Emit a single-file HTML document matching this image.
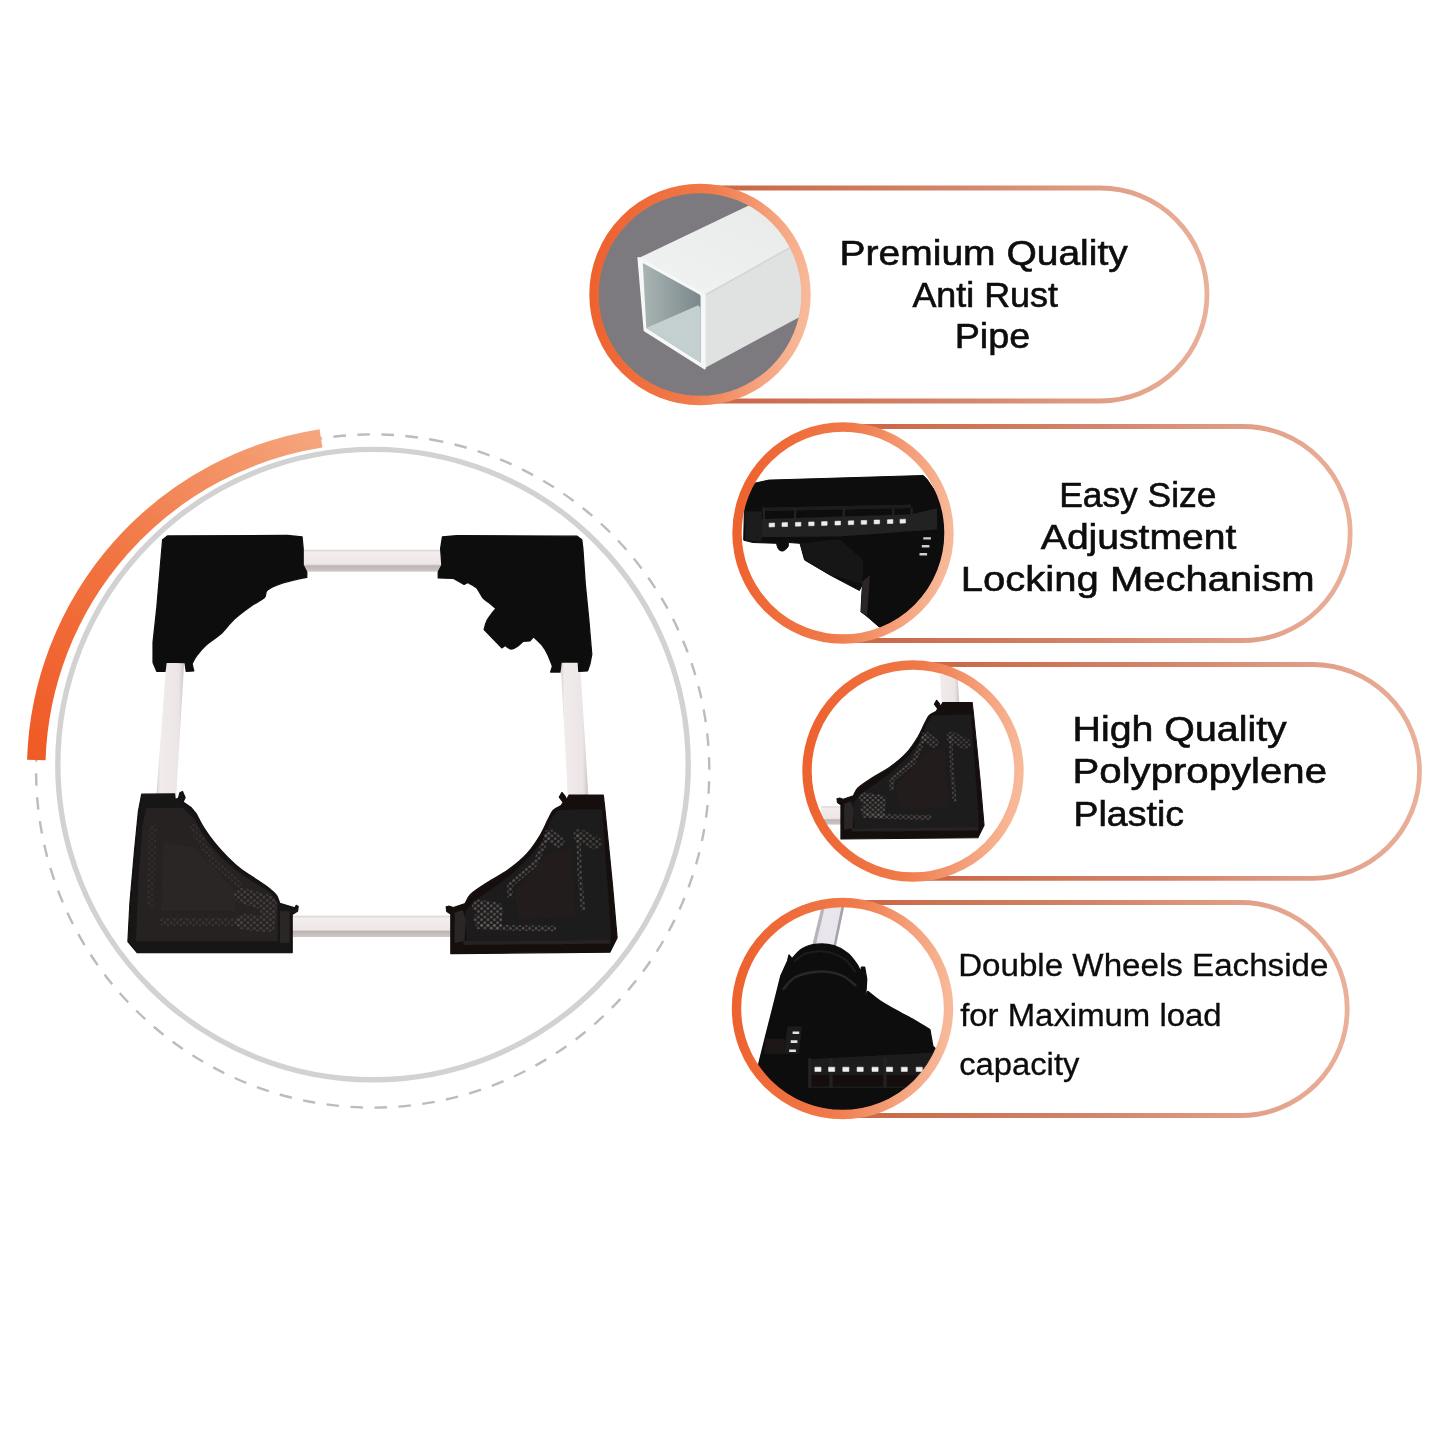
<!DOCTYPE html>
<html><head><meta charset="utf-8"><title>Product features</title>
<style>html,body{margin:0;padding:0;background:#fff;}body{width:1445px;height:1445px;overflow:hidden;font-family:"Liberation Sans",sans-serif;}svg{display:block}</style>
</head><body>
<svg width="1445" height="1445" viewBox="0 0 1445 1445">
<rect width="1445" height="1445" fill="#ffffff"/>
<defs>
<linearGradient id="ring" x1="0" y1="0.45" x2="1" y2="0.55"><stop offset="0" stop-color="#ee622f"/><stop offset="0.5" stop-color="#f07a4a"/><stop offset="0.78" stop-color="#f49f79"/><stop offset="1" stop-color="#f8b999"/></linearGradient>
<linearGradient id="pill" x1="0" y1="0" x2="1" y2="0"><stop offset="0" stop-color="#d5673f"/><stop offset="0.25" stop-color="#cb6b4b"/><stop offset="0.6" stop-color="#d3866b"/><stop offset="1" stop-color="#eab09a"/></linearGradient>
<linearGradient id="arc" gradientUnits="userSpaceOnUse" x1="36" y1="760" x2="321" y2="438"><stop offset="0" stop-color="#f05a25"/><stop offset="0.45" stop-color="#f17340"/><stop offset="0.8" stop-color="#f39366"/><stop offset="1" stop-color="#f5a67e"/></linearGradient>
<linearGradient id="pipeH" x1="0" y1="0" x2="0" y2="1"><stop offset="0" stop-color="#d9d2d2"/><stop offset="0.12" stop-color="#f3eded"/><stop offset="0.66" stop-color="#ede6e6"/><stop offset="0.74" stop-color="#bdb4b4"/><stop offset="1" stop-color="#cfc6c6"/></linearGradient>
<linearGradient id="pipeV" x1="0" y1="0" x2="1" y2="0"><stop offset="0" stop-color="#d6cece"/><stop offset="0.15" stop-color="#f1ebeb"/><stop offset="0.8" stop-color="#ece5e5"/><stop offset="1" stop-color="#cbc2c2"/></linearGradient>
<linearGradient id="wall" x1="0" y1="0" x2="1" y2="0"><stop offset="0" stop-color="#a9b4b4"/><stop offset="1" stop-color="#7b888a"/></linearGradient>
<linearGradient id="topface" x1="0" y1="1" x2="1" y2="0"><stop offset="0" stop-color="#f1f3f2"/><stop offset="1" stop-color="#e3e6e5"/></linearGradient>
<clipPath id="c1"><circle cx="700" cy="294.5" r="102"/></clipPath>
<clipPath id="c2"><circle cx="843" cy="533" r="102"/></clipPath>
<clipPath id="c3"><circle cx="913" cy="771" r="102"/></clipPath>
<clipPath id="c3r"><rect x="821.1" y="674.9" width="300" height="300"/></clipPath>
<clipPath id="c4"><circle cx="842.5" cy="1008.5" r="102"/></clipPath>
<pattern id="dots" width="6.4" height="5.6" patternUnits="userSpaceOnUse"><circle cx="1.6" cy="1.4" r="1.45" fill="#6b6767"/><circle cx="4.8" cy="4.2" r="1.45" fill="#6b6767"/></pattern>
<filter id="soft" x="-2%" y="-2%" width="104%" height="104%"><feGaussianBlur stdDeviation="0.55"/></filter>
<g id="br">
<path d="M560.2,655 L579.6,655 L588.6,800 L568,800Z" fill="url(#pipeV)"/>
<rect x="285" y="915.7" width="172" height="21.3" fill="url(#pipeH)"/>
<path d="M569.1,795.1L603.3,795.1L604.6,806.3L608.6,845.7L612.5,885.2L617.1,937.8L609.9,952.2L450.8,953.6L450.8,914.1L446.8,911.5L446.2,906.9L449.5,906.2L453.4,907.5L465.2,903.6C466.1,902.1 467.2,897.7 470.5,894.4C473.8,891.1 478.6,888.0 485.0,883.9C491.3,879.7 501.6,874.5 508.6,869.4C515.6,864.4 521.8,859.3 527.0,853.6C532.3,847.9 536.7,840.9 540.2,835.2C543.7,829.5 545.9,823.6 548.1,819.4C550.3,815.3 551.1,812.5 553.3,810.2C555.5,807.9 559.9,806.4 561.2,805.6L563.2,802.4L559.3,797.1L561.9,792.5L565.2,796.4L566.5,799.7Z" fill="#131111" stroke="#131111" stroke-width="1.2" stroke-linejoin="round"/>
<path d="M557.3,810.2L602.0,808.9L611.2,935.2L609.9,943.0L466.6,944.4L465.2,911.5L474.4,901.0C481.0,896.1 502.9,881.7 513.9,872.0C524.9,862.4 534.1,851.9 540.2,843.1C546.3,834.3 549.0,823.4 550.7,819.4Z" fill="#1d1a1a"/>
<path d="M548.1,853.6L571.7,848.4L575.7,916.7L519.2,919.4L513.9,893.1Z" fill="#211e1e"/>
<path d="M548.1,835.2L534.9,864.2L509.9,885.2L509.9,895.7" fill="none" stroke="url(#dots)" stroke-width="5.5" stroke-linecap="round" stroke-linejoin="round" opacity="0.7"/>
<path d="M578.3,835.2L579.6,872.0L582.9,908.9" fill="none" stroke="url(#dots)" stroke-width="4.5" stroke-linecap="round" stroke-linejoin="round" opacity="0.65"/>
<path d="M478.4,926.6L513.9,927.9L553.3,928.6" fill="none" stroke="url(#dots)" stroke-width="5.5" stroke-linecap="round" stroke-linejoin="round" opacity="0.7"/>
<path d="M478.4,906.2L496.8,908.9L495.5,923.3L479.7,919.4" fill="none" stroke="url(#dots)" stroke-width="13" stroke-linecap="round" stroke-linejoin="round" opacity="0.75"/>
<path d="M549.4,835.2L558.6,841.8" fill="none" stroke="url(#dots)" stroke-width="12" stroke-linecap="round" stroke-linejoin="round" opacity="0.6"/>
<path d="M579.6,835.2L595.4,843.1" fill="none" stroke="url(#dots)" stroke-width="13" stroke-linecap="round" stroke-linejoin="round" opacity="0.5"/>
<path d="M454.7,912.8L462.6,910.2L465.9,919.4L464.6,941.1L454.7,943.0Z" fill="#2a2626"/>
<path d="M463.3,941.1L609.9,939.8L610.5,943.7L463.3,945.0Z" fill="#252121"/>
</g>
</defs>
<g filter="url(#soft)">
<circle cx="373" cy="764.6" r="315.2" fill="none" stroke="#d2d2d2" stroke-width="5.4"/>
<circle cx="372.7" cy="771" r="336.6" fill="none" stroke="#bcbcbc" stroke-width="2.4" stroke-dasharray="12.5 11.5" transform="rotate(-80 372.7 771)"/>
<path d="M36.3,760.0 A336.6,336.6 0 0 1 321.0,438.4" fill="none" stroke="#fff" stroke-width="22"/>
<path d="M36.3,760.0 A336.6,336.6 0 0 1 321.0,438.4" fill="none" stroke="url(#arc)" stroke-width="18.5"/>
<rect x="290" y="549.7" width="160" height="21.9" fill="url(#pipeH)"/>
<path d="M166.9,655 L184.6,655 L176,800 L156,800Z" fill="url(#pipeV)"/>
<use href="#br"/>
<path d="M162.6,539.7L167.4,535.9L287.4,535.4L302.1,536.8L303.2,548.5L303.2,565.0L306.8,572.1L306.8,577.4C305.3,577.6 301.8,578.2 297.9,579.1C294.1,580.0 287.7,581.5 283.8,582.6C279.9,583.8 277.3,584.8 274.4,586.2C271.6,587.5 268.5,588.9 266.8,590.9C265.0,592.8 266.7,595.4 264.1,597.9C261.4,600.5 255.8,602.6 250.9,606.2C245.9,609.7 239.5,614.4 234.4,619.1C229.3,623.8 225.0,630.1 220.3,634.4C215.6,638.7 210.1,641.5 206.2,645.0C202.3,648.5 199.1,652.5 196.8,655.6C194.4,658.7 192.8,662.5 192.1,663.8L193.8,670.9L186.2,671.5L185.0,662.6L166.2,662.1L165.0,671.5L156.8,671.5L153.0,662.6L153.0,642.6L156.8,607.4L160.3,566.2Z" fill="#0f0d0d" stroke="#0f0d0d" stroke-width="1.2" stroke-linejoin="round"/>
<path d="M442.4,536.8L457.1,535.6L577.1,536.2L581.8,539.7L582.9,548.5L585.3,583.8L588.8,619.1L591.8,654.4L590.0,663.8L587.6,670.9L578.8,671.5L578.2,662.1L561.2,662.1L560.0,672.1L550.6,672.1L552.4,666.2C551.6,664.2 549.4,657.9 547.6,654.4C545.9,650.9 544.1,647.9 541.8,645.0C539.4,642.1 534.9,638.1 533.5,636.8L530.0,640.9L522.9,641.5C522.1,642.3 519.6,644.9 517.6,646.2C515.7,647.5 513.2,649.2 511.2,649.1C509.1,649.0 506.3,646.2 505.3,645.6L501.8,647.9L484.1,629.7C484.5,628.3 485.4,623.9 486.5,621.5C487.5,619.0 489.0,617.2 490.6,615.0C492.2,612.8 495.0,609.6 495.9,608.5C494.7,607.5 491.0,604.4 488.8,602.6C486.7,600.9 484.5,599.7 482.9,597.9C481.4,596.2 480.6,593.8 479.4,592.1C478.2,590.3 477.8,588.9 475.9,587.4C473.9,585.8 469.0,583.4 467.6,582.6L464.1,584.4L453.5,578.5L438.2,577.9L438.2,572.1L441.8,565.0L440.6,548.5Z" fill="#0f0d0d" stroke="#0f0d0d" stroke-width="1.2" stroke-linejoin="round"/>
<path d="M141.7,794.2L174.6,793.9L175.2,799.5L178.5,798.1L179.8,792.9L182.5,791.6L185.1,797.5L183.1,802.1L191.0,807.4L196.3,813.9C197.6,816.3 201.1,823.6 204.2,828.4C207.2,833.2 210.7,838.0 214.7,842.9C218.6,847.7 223.4,852.9 227.8,857.3C232.2,861.7 236.1,865.4 241.0,869.2C245.8,872.9 251.9,876.4 256.7,879.7C261.6,883.0 266.6,886.2 269.9,888.9C273.2,891.5 274.8,893.0 276.5,895.4C278.1,897.9 279.2,902.0 279.8,903.3L294.9,907.9L296.2,905.3L298.2,906.6L297.5,911.2L292.2,914.5L292.2,952.6L137.1,952.6L127.9,941.5L129.9,903.3L134.5,850.7L138.4,811.3Z" fill="#151212" stroke="#151212" stroke-width="1.2" stroke-linejoin="round"/>
<path d="M146.3,807.4L183.1,807.4L193.6,817.9C196.7,822.7 204.6,837.8 212.0,846.8C219.5,855.8 228.9,864.3 238.3,871.8C247.8,879.2 262.0,886.2 268.6,891.5C275.2,896.8 276.3,901.4 277.8,903.3L277.8,941.5L135.8,941.5L138.4,877.0L142.4,824.4Z" fill="#262020"/>
<path d="M163.4,841.5L193.6,846.8L235.7,890.2L235.7,911.2L160.8,911.2Z" fill="#2b2525"/>
<path d="M242.3,895.4L268.6,903.3L267.3,924.4L243.6,921.7" fill="none" stroke="url(#dots)" stroke-width="16" stroke-linecap="round" stroke-linejoin="round" opacity="0.45"/>
<path d="M163.4,921.7L238.3,921.7" fill="none" stroke="url(#dots)" stroke-width="8" stroke-linecap="round" stroke-linejoin="round" opacity="0.3"/>
<path d="M193.6,828.4L212.0,858.6L238.3,884.9" fill="none" stroke="url(#dots)" stroke-width="8" stroke-linecap="round" stroke-linejoin="round" opacity="0.22"/>
<path d="M152.9,828.4L150.2,903.3" fill="none" stroke="url(#dots)" stroke-width="8" stroke-linecap="round" stroke-linejoin="round" opacity="0.2"/>
<path d="M279.8,911.2L289.6,911.2L289.6,942.8L279.8,942.8Z" fill="#2c2727"/>
<rect x="593.5" y="188" width="613.5" height="213.0" rx="106.5" fill="#fff" stroke="url(#pill)" stroke-width="4.8"/>
<rect x="736.0" y="426.5" width="614.2" height="214.0" rx="107.0" fill="#fff" stroke="url(#pill)" stroke-width="4.8"/>
<rect x="806.1" y="664.5" width="613.4" height="213.8" rx="106.9" fill="#fff" stroke="url(#pill)" stroke-width="4.8"/>
<rect x="736.0" y="902.5" width="611.2" height="213.0" rx="106.5" fill="#fff" stroke="url(#pill)" stroke-width="4.8"/>
<g clip-path="url(#c1)">
<rect x="590" y="184" width="222" height="222" fill="#7b7a7f"/>
<path d="M638.7,258.1L832.5,165.5L898.2,187.1L704.4,295.5Z" fill="url(#topface)"/>
<path d="M704.4,295.5L898.2,187.1L898.2,264.1L704.4,368.2Z" fill="#dfe2e1"/>
<path d="M704.4,295.5L898.2,187.1" fill="none" stroke="#d2d6d5" stroke-width="1.5"/>
<path d="M638.4,257.9L704.7,295.2L704.7,368.4L644.6,330.4Z" fill="#f6f8f8" stroke="#f6f8f8" stroke-width="2" stroke-linejoin="round"/>
<path d="M642.8,263.0L696.8,293.0C697.4,293.4 699.7,294.2 700.3,295.5C700.9,296.8 700.5,300.1 700.6,301.0L700.6,362.6L646.3,328.0Z" fill="url(#wall)"/>
<path d="M646.3,328.0L698.2,305.2L700.6,308.0L700.6,362.6Z" fill="#c4cfd0"/>
</g>
<g clip-path="url(#c2)">
<path d="M755.1,483.1L768.8,480.1L923.3,475.5L927.1,479.3L961.4,529.6L961.4,651.4L879.2,627.0L867.0,616.4L860.9,611.8L862.4,584.4L859.4,590.5L830.4,575.2L804.6,560.0L800.0,543.3L788.6,542.5C788.4,543.3 788.7,545.7 787.8,547.1C786.9,548.5 784.8,550.5 783.2,550.9C781.7,551.3 779.8,550.6 778.7,549.4C777.5,548.1 776.8,544.3 776.4,543.3L752.8,542.5L743.7,540.2L744.4,508.3L748.2,494.6Z" fill="#0d0b0b" stroke="#0d0b0b" stroke-width="1" stroke-linejoin="round"/>
<path d="M761.2,518.9L911.1,514.3L937.0,508.3L937.0,529.6L839.6,536.4L761.9,537.2Z" fill="#232121"/>
<path d="M745.2,511.3L761.9,511.3L761.9,541.8L745.2,540.2Z" fill="#1c1a1a"/>
<path d="M761.9,507.5L911.1,504.5L911.1,508.3L761.9,511.3Z" fill="#1e1c1c"/>
<path d="M762.7,508.3L765.1,508.3L765.1,520.4L762.7,520.4Z" fill="#242222"/>
<path d="M793.9,508.3L796.3,508.3L796.3,520.4L793.9,520.4Z" fill="#242222"/>
<path d="M842.6,508.3L845.1,508.3L845.1,520.4L842.6,520.4Z" fill="#242222"/>
<path d="M892.1,508.3L894.5,508.3L894.5,520.4L892.1,520.4Z" fill="#242222"/>
<path d="M910.4,508.3L912.8,508.3L912.8,520.4L910.4,520.4Z" fill="#242222"/>
<path d="M800.0,543.3L839.6,538.7L863.9,560.0L862.4,584.4L830.4,575.2L804.6,560.0Z" fill="#141212"/>
<path d="M862.4,581.3L870.0,575.2L867.0,616.4L860.9,611.8Z" fill="#2a2626"/>
<path d="M769.1,523.2L774.6,523.0L774.6,526.8L769.1,527.0Z" fill="#ededed" stroke="#ededed" stroke-width="0.6" stroke-linejoin="round"/>
<path d="M782.0,522.8L787.5,522.6L787.5,526.5L782.0,526.6Z" fill="#ededed" stroke="#ededed" stroke-width="0.6" stroke-linejoin="round"/>
<path d="M795.4,522.4L800.9,522.3L800.9,526.1L795.4,526.2Z" fill="#ededed" stroke="#ededed" stroke-width="0.6" stroke-linejoin="round"/>
<path d="M808.7,522.0L814.1,521.9L814.1,525.7L808.7,525.8Z" fill="#ededed" stroke="#ededed" stroke-width="0.6" stroke-linejoin="round"/>
<path d="M821.6,521.7L827.1,521.5L827.1,525.3L821.6,525.5Z" fill="#ededed" stroke="#ededed" stroke-width="0.6" stroke-linejoin="round"/>
<path d="M835.0,521.3L840.5,521.1L840.5,524.9L835.0,525.1Z" fill="#ededed" stroke="#ededed" stroke-width="0.6" stroke-linejoin="round"/>
<path d="M848.3,520.9L853.7,520.7L853.7,524.6L848.3,524.7Z" fill="#ededed" stroke="#ededed" stroke-width="0.6" stroke-linejoin="round"/>
<path d="M861.2,520.5L866.7,520.4L866.7,524.2L861.2,524.3Z" fill="#ededed" stroke="#ededed" stroke-width="0.6" stroke-linejoin="round"/>
<path d="M874.1,520.1L879.6,520.0L879.6,523.8L874.1,523.9Z" fill="#ededed" stroke="#ededed" stroke-width="0.6" stroke-linejoin="round"/>
<path d="M887.4,519.8L892.9,519.6L892.9,523.4L887.4,523.6Z" fill="#ededed" stroke="#ededed" stroke-width="0.6" stroke-linejoin="round"/>
<path d="M900.0,519.4L905.5,519.2L905.5,523.0L900.0,523.2Z" fill="#ededed" stroke="#ededed" stroke-width="0.6" stroke-linejoin="round"/>
<path d="M923.3,537.2L930.9,537.2L930.9,539.6L923.3,539.6Z" fill="#cfcfcf"/>
<path d="M921.8,545.1L929.4,545.1L929.4,547.5L921.8,547.5Z" fill="#cfcfcf"/>
<path d="M919.5,553.0L927.1,553.0L927.1,555.5L919.5,555.5Z" fill="#cfcfcf"/>
</g>
<g clip-path="url(#c3)"><g clip-path="url(#c3r)"><use href="#br" transform="translate(452.76 17.85) scale(0.861)"/></g></g>
<g clip-path="url(#c4)">
<path d="M821.8,906.1L844.3,906.1L835.8,946.4L812.3,944.9Z" fill="#e8e5ec"/>
<path d="M821.8,906.1L825.1,906.1L815.7,945.2L812.3,944.9Z" fill="#b8b4bb"/>
<path d="M841.6,906.1L844.3,906.1L835.8,946.4L833.4,946.3Z" fill="#a6a2a9"/>
<path d="M789.0,954.8L792.1,958.6C793.7,957.0 797.8,951.1 802.0,948.7C806.2,946.3 811.9,944.7 817.2,944.2C822.5,943.6 828.9,944.2 834.0,945.7C839.0,947.2 843.9,950.2 847.7,953.3C851.5,956.3 854.6,960.9 856.8,963.9C859.0,967.0 860.0,970.3 860.6,971.6L861.4,967.0L864.7,967.0L866.8,979.2L865.6,997.4L867.8,991.3C869.7,992.9 875.1,997.4 879.6,1000.5C884.2,1003.5 889.0,1006.3 894.9,1009.6C900.7,1012.9 908.8,1017.0 914.7,1020.3C920.5,1023.6 927.3,1027.9 929.9,1029.4L932.9,1046.2L955.8,1067.5L955.8,1128.4L735.0,1128.4L757.8,1067.5L765.4,1037.0L773.1,1006.6L780.7,976.1L787.5,960.9Z" fill="#0d0b0b" stroke="#0d0b0b" stroke-width="1.2" stroke-linejoin="round"/>
<path d="M811.1,1059.1L940.5,1052.2L940.5,1088.0L811.1,1088.0Z" fill="#1f1d1d"/>
<path d="M811.1,1075.1L940.5,1075.1L940.5,1086.5L811.1,1086.5Z" fill="#121010"/>
<path d="M808.1,1058.3L811.4,1058.3L811.4,1088.0L808.1,1088.0Z" fill="#242222"/>
<path d="M829.4,1058.3L832.7,1058.3L832.7,1088.0L829.4,1088.0Z" fill="#242222"/>
<path d="M883.4,1058.3L886.8,1058.3L886.8,1088.0L883.4,1088.0Z" fill="#242222"/>
<path d="M787.5,1026.4L802.0,1026.4L798.9,1053.8L783.7,1053.8Z" fill="#1c1a1a"/>
<path d="M765.4,1038.5L785.2,1038.5L783.7,1053.8L763.9,1053.8Z" fill="#1b1919"/>
<ellipse cx="818.0" cy="999.0" rx="39.3" ry="27.4" transform="rotate(-12 818.0 999.0)" fill="#090808"/>
<path d="M783.4,989.1C785.5,987.0 789.8,979.8 795.9,976.9C802.0,974.0 812.6,971.8 820.3,971.6C827.9,971.3 835.7,973.1 841.6,975.4C847.4,977.6 853.0,983.6 855.3,985.3" fill="none" stroke="#2b2727" stroke-width="2.6" stroke-linecap="round"/>
<path d="M795.1,960.9C797.0,959.6 801.4,954.8 806.6,953.3C811.8,951.8 820.0,950.7 826.3,951.8C832.7,952.8 839.8,956.1 844.6,959.4C849.4,962.7 853.5,969.5 855.3,971.6" fill="none" stroke="#1f1c1c" stroke-width="2" stroke-linecap="round"/>
<path d="M792.6,1031.4L799.2,1031.4L799.2,1034.1L792.6,1034.1Z" fill="#e4e4e4"/>
<path d="M790.7,1040.2L797.4,1040.2L797.4,1043.0L790.7,1043.0Z" fill="#e4e4e4"/>
<path d="M789.2,1049.4L795.9,1049.4L795.9,1052.1L789.2,1052.1Z" fill="#e4e4e4"/>
<path d="M814.9,1067.2L821.0,1067.2L821.0,1071.4L814.9,1071.4Z" fill="#f0f0f0" stroke="#f0f0f0" stroke-width="0.6" stroke-linejoin="round"/>
<path d="M828.6,1067.2L834.7,1067.2L834.7,1071.4L828.6,1071.4Z" fill="#f0f0f0" stroke="#f0f0f0" stroke-width="0.6" stroke-linejoin="round"/>
<path d="M842.8,1067.2L848.9,1067.2L848.9,1071.4L842.8,1071.4Z" fill="#f0f0f0" stroke="#f0f0f0" stroke-width="0.6" stroke-linejoin="round"/>
<path d="M857.1,1067.2L863.2,1067.2L863.2,1071.4L857.1,1071.4Z" fill="#f0f0f0" stroke="#f0f0f0" stroke-width="0.6" stroke-linejoin="round"/>
<path d="M872.0,1067.2L878.1,1067.2L878.1,1071.4L872.0,1071.4Z" fill="#f0f0f0" stroke="#f0f0f0" stroke-width="0.6" stroke-linejoin="round"/>
<path d="M886.5,1067.2L892.6,1067.2L892.6,1071.4L886.5,1071.4Z" fill="#f0f0f0" stroke="#f0f0f0" stroke-width="0.6" stroke-linejoin="round"/>
<path d="M901.3,1067.2L907.3,1067.2L907.3,1071.4L901.3,1071.4Z" fill="#f0f0f0" stroke="#f0f0f0" stroke-width="0.6" stroke-linejoin="round"/>
<path d="M916.2,1067.2L922.3,1067.2L922.3,1071.4L916.2,1071.4Z" fill="#f0f0f0" stroke="#f0f0f0" stroke-width="0.6" stroke-linejoin="round"/>
</g>
<circle cx="700" cy="294.5" r="106" fill="none" stroke="url(#ring)" stroke-width="9.4"/>
<circle cx="843" cy="533" r="106" fill="none" stroke="url(#ring)" stroke-width="9.4"/>
<circle cx="913" cy="771" r="106" fill="none" stroke="url(#ring)" stroke-width="9.4"/>
<circle cx="842.5" cy="1008.5" r="106" fill="none" stroke="url(#ring)" stroke-width="9.4"/>
<g font-family="'Liberation Sans', sans-serif" fill="#0c0c0c" stroke="#0c0c0c" stroke-width="0.6">
<text x="839.57" y="264.7" font-size="35.2" text-anchor="start" textLength="288.2" lengthAdjust="spacingAndGlyphs" >Premium Quality</text>
<text x="912.4" y="307.0" font-size="35.2" text-anchor="start" textLength="145.6" lengthAdjust="spacingAndGlyphs" >Anti Rust</text>
<text x="954.65" y="347.7" font-size="35.2" text-anchor="start" textLength="75.5" lengthAdjust="spacingAndGlyphs" >Pipe</text>
<text x="1059.14" y="506.6" font-size="35.2" text-anchor="start" textLength="157.3" lengthAdjust="spacingAndGlyphs" >Easy Size</text>
<text x="1040.8" y="548.6" font-size="35.2" text-anchor="start" textLength="195.6" lengthAdjust="spacingAndGlyphs" >Adjustment</text>
<text x="960.76" y="590.7" font-size="35.2" text-anchor="start" textLength="353.9" lengthAdjust="spacingAndGlyphs" >Locking Mechanism</text>
<text x="1072.55" y="741.1" font-size="35.2" text-anchor="start" textLength="214.2" lengthAdjust="spacingAndGlyphs" >High Quality</text>
<text x="1072.54" y="782.9" font-size="35.2" text-anchor="start" textLength="254.5" lengthAdjust="spacingAndGlyphs" >Polypropylene</text>
<text x="1073.5" y="825.6" font-size="35.2" text-anchor="start" textLength="110.5" lengthAdjust="spacingAndGlyphs" >Plastic</text>
</g>
<g font-family="'Liberation Sans', sans-serif" fill="#0a0a0a" stroke="#0a0a0a" stroke-width="0.3">
<text x="958.17" y="975.9" font-size="30.6" text-anchor="start" textLength="370.2" lengthAdjust="spacingAndGlyphs" >Double Wheels Eachside</text>
<text x="960.19" y="1025.8" font-size="30.6" text-anchor="start" textLength="261.4" lengthAdjust="spacingAndGlyphs" >for Maximum load</text>
<text x="959.19" y="1075.0" font-size="30.6" text-anchor="start" textLength="120.2" lengthAdjust="spacingAndGlyphs" >capacity</text>
</g>
</g>
</svg>
</body></html>
